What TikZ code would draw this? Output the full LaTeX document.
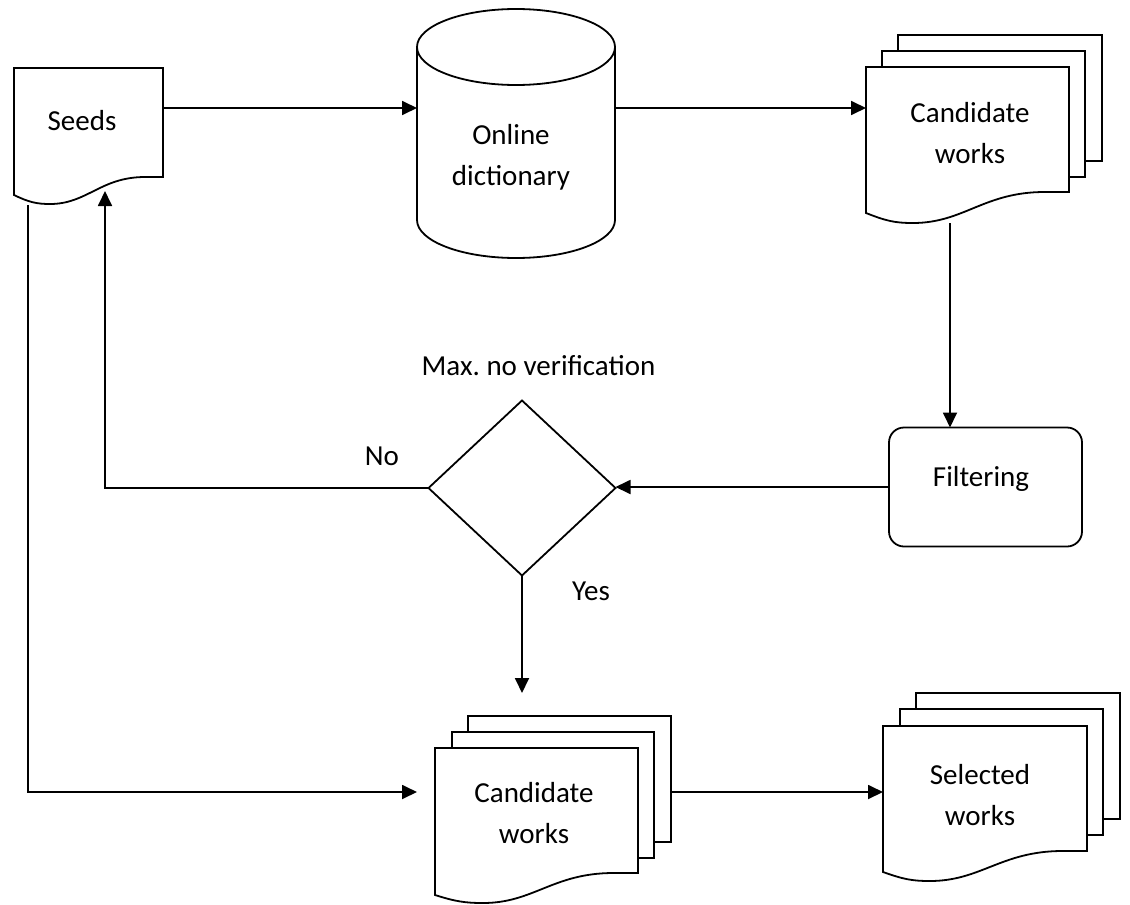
\documentclass[tikz,border=0pt]{standalone}
\usepackage{fontspec}
\setmainfont{Carlito}
\usetikzlibrary{arrows.meta,shapes.geometric,calc}
\frenchspacing

\tikzset{
  pageline/.style={draw=black, line width=1.8pt, fill=white, line join=miter},
  pagebox/.style={rectangle, inner sep=0pt, outer sep=0pt},
  sheetbox/.style={pagebox, draw=black, line width=1.8pt, fill=white},
  arr/.style={draw=black, line width=1.8pt, -{Triangle[length=15pt,width=14pt]}},
  txt/.style={inner sep=0pt, font=\fontsize{29}{40.5}\selectfont, text=black},
  decision/.style={diamond, draw=black, line width=1.8pt, inner sep=0pt, outer sep=0pt},
  process/.style={rectangle, draw=black, line width=1.8pt, rounded corners=15pt, inner sep=0pt, outer sep=0pt}
}

% front sheet of a document symbol with a wavy lower edge
% #1 name, #2 left, #3 top, #4 right, #5 lower right, #6 lower left, #7/#8 lowest point of the wave
\newcommand\docpage[8]{%
  \node[pagebox, minimum width={(#4-#2)*1pt}, minimum height={(#5-#3)*1pt}] (#1) at ({(#2+#4)/2},{(#3+#5)/2}) {};
  \draw[pageline] (#2,#3) -- (#4,#3) -- (#4,#5) -- ({#4-0.12*(#4-#2)},#5)
     .. controls ({#4-0.42*(#4-#2)},#5) and ({#7+0.25*(#4-#2)},#8) .. (#7,#8)
     .. controls ({#7-0.09*(#4-#2)},#8) and ({#2+0.1*(#4-#2)},{#6+0.8*(#8-#6)}) .. (#2,#6) -- cycle;
}
% plain sheet behind the front one: #1 name, #2 left, #3 top, #4 right, #5 bottom
\newcommand\sheet[5]{%
  \node[sheetbox, minimum width={(#4-#2)*1pt}, minimum height={(#5-#3)*1pt}] (#1) at ({(#2+#4)/2},{(#3+#5)/2}) {};
}

\begin{document}
\begin{tikzpicture}[x=1pt,y=-1pt]
  \useasboundingbox (0,0) rectangle (1130,905);
  \fill[white] (0,0) rectangle (1130,905);

  % Seeds
  \docpage{seeds}{14}{68}{163}{177}{195}{50}{204}
  \node[txt, anchor=base] (seedslabel) at (82,130) {Seeds};

  % Online dictionary (cylinder)
  \node[pagebox, minimum width=198pt, minimum height=249pt] (dict) at (516,133.5) {};
  \draw[pageline, fill=none] (417,47) -- (417,220) arc[start angle=180, end angle=360, x radius=99pt, y radius=38pt] -- (615,47);
  \draw[pageline, fill=none] (516,47) ellipse[x radius=99pt, y radius=38pt];
  \node[txt, anchor=base, align=center] (dictlabel) at (511,185) {Online\\dictionary};

  % Candidate works (top)
  \sheet{cand1back}{898}{35}{1102}{161}
  \sheet{cand1mid}{882}{51}{1085}{177}
  \docpage{cand1}{866}{67}{1069}{192}{213}{913}{223}
  \node[txt, anchor=base, align=center] (cand1label) at (970,163) {Candidate\\works};

  % Filtering
  \node[process, minimum width=193pt, minimum height=119pt] (filter) at (985.5,487) {};
  \node[txt, anchor=base] (filterlabel) at (981,486) {Filtering};

  % Decision
  \node[decision, minimum width=187pt, minimum height=175pt] (dia) at (522,488) {};
  \node[txt, anchor=base] (dialabel) at (538.5,375) {Max. no verification};
  \node[txt, anchor=base] (nolabel) at (382,465) {No};
  \node[txt, anchor=base] (yeslabel) at (591,600) {Yes};

  % Candidate works (bottom)
  \sheet{cand2back}{468}{716}{671}{842}
  \sheet{cand2mid}{452}{732}{654}{858}
  \docpage{cand2}{435}{748}{638}{873}{895}{483}{903}
  \node[txt, anchor=base, align=center] (cand2label) at (534,843) {Candidate\\works};

  % Selected works
  \sheet{selback}{916}{693}{1120}{819}
  \sheet{selmid}{900}{709}{1103}{835}
  \docpage{sel}{883}{726}{1087}{851}{872}{930}{881}
  \node[txt, anchor=base, align=center] (sellabel) at (980,825) {Selected\\works};

  % connectors
  \coordinate (c1out) at (950,223);
  \coordinate (seedsin) at (105,191);
  \coordinate (seedsout) at (28,205);
  \coordinate (yestip) at (524,693);
  \coordinate (c2in) at (417,792);

  \draw[arr] ([yshift=14.5pt]seeds.east) -- ([yshift=14.5pt]seeds.east -| dict.west);
  \draw[arr] ([yshift=25.5pt]dict.east) -- ([yshift=25.5pt]dict.east -| cand1.west);
  \draw[arr] (c1out) -- (c1out |- filter.north);
  \draw[arr] (filter.west) -- (filter.west -| dia.east);
  \draw[arr] (dia.west) -| (seedsin);
  \draw[arr] (dia.south) -- (dia.south |- yestip);
  \draw[arr] (seedsout) |- (c2in);
  \draw[arr] (cand2back.east |- c2in) -- (c2in -| sel.west);
\end{tikzpicture}
\end{document}
